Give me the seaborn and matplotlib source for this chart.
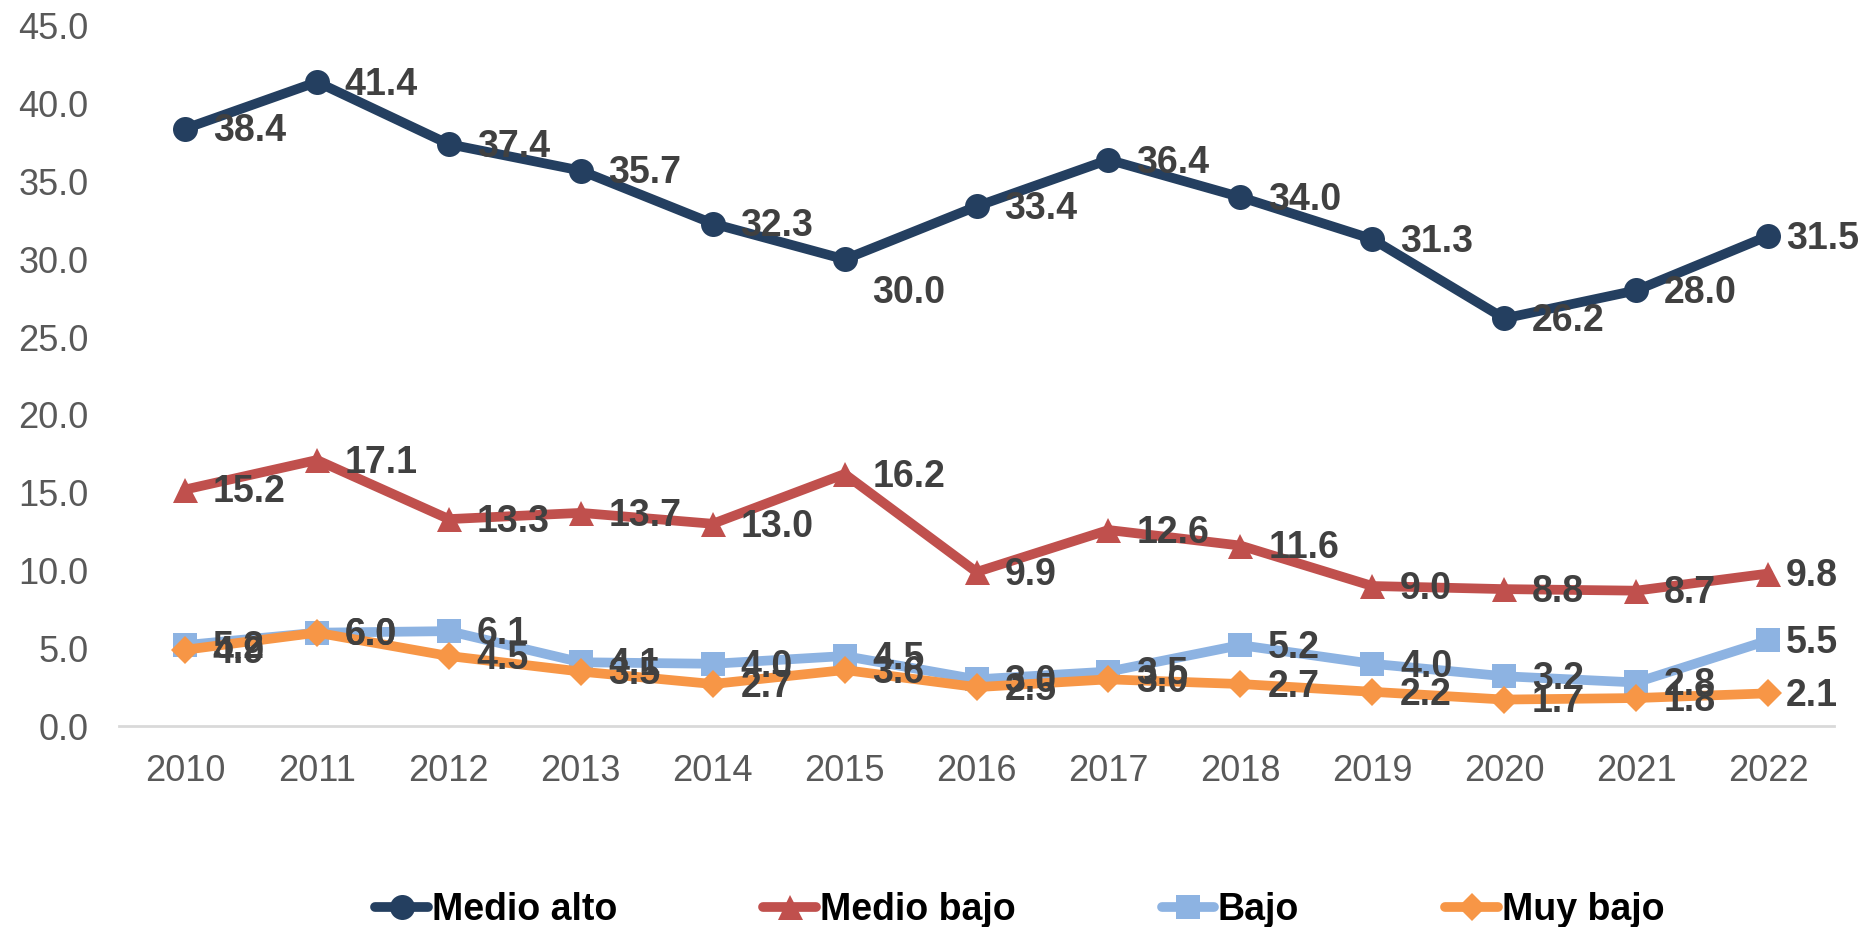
import matplotlib
matplotlib.use("Agg")
import matplotlib.pyplot as plt
import seaborn as sns
import pandas as pd

years = [2010, 2011, 2012, 2013, 2014, 2015, 2016, 2017, 2018, 2019, 2020, 2021, 2022]
medio_alto = [38.4, 41.4, 37.4, 35.7, 32.3, 30.0, 33.4, 36.4, 34.0, 31.3, 26.2, 28.0, 31.5]
medio_bajo = [15.2, 17.1, 13.3, 13.7, 13.0, 16.2, 9.9, 12.6, 11.6, 9.0, 8.8, 8.7, 9.8]
bajo = [5.2, 6.0, 6.1, 4.1, 4.0, 4.5, 3.0, 3.5, 5.2, 4.0, 3.2, 2.8, 5.5]
muy_bajo = [4.9, 6.0, 4.5, 3.5, 2.7, 3.6, 2.5, 3.0, 2.7, 2.2, 1.7, 1.8, 2.1]
series_names = ["Medio alto", "Medio bajo", "Bajo", "Muy bajo"]
yticks = [0, 5, 10, 15, 20, 25, 30, 35, 40, 45]

colors = ["#243F60", "#C0504D", "#8DB3E2", "#F79646"]
markers = ["o", "^", "s", "D"]
msizes = [18, 18, 17, 14]

sns.set_theme(style="white")
plt.rcParams['font.family'] = ['Liberation Sans', 'DejaVu Sans']

rows = []
for name, vals in zip(series_names, [medio_alto, medio_bajo, bajo, muy_bajo]):
    for i, v in enumerate(vals):
        rows.append({"idx": i, "year": years[i], "value": v, "serie": name})
df = pd.DataFrame(rows)

fig = plt.figure(figsize=(18.61, 9.27), dpi=100)
ax = fig.add_axes([0.064, 0.2168, 0.9215, 0.7552])

last = len(years) - 1
for name, col, mk, ms in zip(series_names, colors, markers, msizes):
    sub = df[df.serie == name]
    sns.lineplot(data=sub, x="idx", y="value", ax=ax, color=col, linewidth=7,
                 marker=mk, markersize=ms, markeredgewidth=0, label=name,
                 legend=False, solid_capstyle="round")
    for _, r in sub.iterrows():
        dx = 13 if r.idx == last else 20
        dy = -24 if (name == "Medio alto" and r.year == 2015) else -2
        ax.annotate(f"{r.value:.1f}", (r.idx, r.value), xytext=(dx, dy),
                    textcoords="offset points", ha="left", va="center",
                    fontsize=27, fontweight="bold", color="#404040",
                    annotation_clip=False)

ax.set_xlim(-0.5, len(years) - 0.5)
ax.set_ylim(0, 45)
ax.set_xticks(range(len(years)))
ax.set_xticklabels([str(y) for y in years])
ax.set_yticks(yticks)
ax.set_yticklabels([f"{t:.1f}" for t in yticks])
ax.tick_params(axis="both", length=0, labelsize=26, colors="#595959")
ax.tick_params(axis="y", pad=22)
ax.tick_params(axis="x", pad=20)
ax.set_xlabel("")
ax.set_ylabel("")
for s in ["top", "right", "left"]:
    ax.spines[s].set_visible(False)
ax.spines["bottom"].set_color("#D9D9D9")
ax.spines["bottom"].set_linewidth(2)
ax.grid(False)

handles = [l for l in ax.get_lines() if l.get_label() in series_names]
leg = fig.legend(handles, series_names, loc="lower center", bbox_to_anchor=(0.548, -0.038),
                 ncol=4, frameon=False, handlelength=1.4, handletextpad=0.1,
                 columnspacing=3.9, prop={"weight": "bold", "size": 27})
for t in leg.get_texts():
    t.set_color("black")

fig.savefig("out.png", dpi=100)
